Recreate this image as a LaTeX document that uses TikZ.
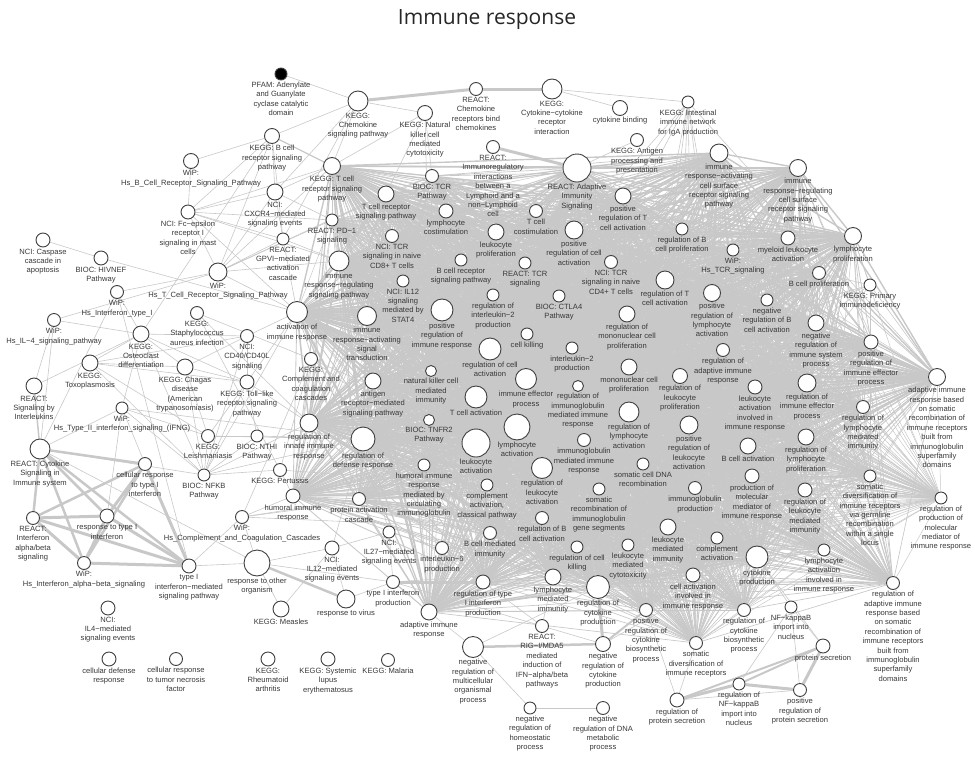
\documentclass[tikz,border=0pt]{standalone}
\usepackage{fontspec}
\setmainfont{Liberation Sans}
\newfontfamily\titlefont{Open Sans}
\usetikzlibrary{backgrounds}

\definecolor{linkgrey}{HTML}{C8C8C8}
\definecolor{ringgrey}{HTML}{3F3F3F}
\definecolor{textgrey}{HTML}{383838}

\tikzset{
  term/.style={circle, draw=ringgrey, fill=white, line width=0.9pt, inner sep=0pt, minimum size={2*#1}},
  lbl/.style={font=\fontsize{7.6}{9.4}\selectfont, text=textgrey, align=center, inner sep=0.5pt, label distance=0.6pt},
  link/.style={draw=linkgrey, line width=#1},
  link/.default=0.6pt
}

% terms that are all linked to one another
\newcommand\corelist{iracs/9, irrcs/8.5, posTact/8, tcostim/6.5, lcostim/7, tcrsig/8, lprolif/8, poscellact/9,
  regBprolif/6, myeloid/7, lymprolif/8.5, wiptcr/6, bprolif/6.5, irsp/10, bcrsig/6, rtcr/6, tcr4/6.5,
  regTact/9, poslymact/8.5, negBact/6, regil2/6, ctla4/6, actimm/10.5, irast/9.5, posimm/11,
  regmonoprolif/8, negimmsys/8, posimmeff/7, cellkill/6, regcellact/11, il2prod/6, regadapt/6.5,
  adaptsom/8.5, monoprolif/8, regleukprolif/7.5, immeff/10.5, regigimm/5.5, leukactinv/7, regimmeff/9,
  reglymmed/6.5, nkimm/5.5, antigenrec/8, tact/11, reglymact/10, posleukact/9, lymact/13, leukact/14,
  reginnate/9, regdef/12, tnfr2/5.5, bact/8, reglymprolif/8, igmed/6.5, humoralig/6, regleukact/10.5,
  somdna/6, prodmol/7, regleukmed/7, somgerm/6, regprodmol/6, compclass/6, somrecig/6, igprod/6.5,
  bmedimm/6.5, regBact/6.5, leukmedimm/8, compact/6, humoral/7, protact/6.5, regcellkill/6, leukcyto/6,
  lymmedimm/8, regcytprod/11.5, cellactinv/7, cytprod/11, lymactinv/6, regadaptsom/6.5, adaptimm/8,
  regtypei/7, radapt/14, ktcell/8.5, bioctcr/6.5, tcr8/6.5, il12stat/6, pd1/6, somdiv/6.5,
  poscytbio/6.5, regcytbio/6.5}

\begin{document}
\begin{tikzpicture}[x=1pt, y=-1pt]
\useasboundingbox (0,0) rectangle (975,758);

\node[font=\titlefont\fontsize{21}{25}\selectfont, text=black!85] (title) at (487,20) {Immune response};

% pathways, top and left
\node[term=6, fill=black, label={[lbl]below:{PFAM: Adenylate\\and Guanylate\\cyclase catalytic\\domain}}] (pfam) at (281,74) {};
\node[term=10, label={[lbl]below:{KEGG:\\Chemokine\\signaling pathway}}] (kchemo) at (358,101) {};
\node[term=6.5, label={[lbl]below:{REACT:\\Chemokine\\receptors bind\\chemokines}}] (rchemo) at (476,89) {};
\node[term=7.5, label={[lbl]below:{KEGG: Natural\\killer cell\\mediated\\cytotoxicity}}] (nkcyto) at (425,113) {};
\node[term=10, label={[lbl]below:{KEGG:\\Cytokine−cytokine\\receptor\\interaction}}] (kcytok) at (552,89) {};
\node[term=7.5, label={[lbl]below:{cytokine binding}}] (cytbind) at (620,108) {};
\node[term=6, label={[lbl]below:{KEGG: Intestinal\\immune network\\for IgA production}}] (kiga) at (688,102) {};
\node[term=7.5, label={[lbl]below:{KEGG: B cell\\receptor signaling\\pathway}}] (kbcell) at (272,136) {};
\node[term=7.5, label={[lbl]below:{WiP:\\Hs\_B\_Cell\_Receptor\_Signaling\_Pathway}}] (wipb) at (191,161) {};
\node[term=6.5, label={[lbl]below:{REACT:\\Immunoregulatory\\interactions\\between a\\Lymphoid and a\\non−Lymphoid\\cell}}] (rimmreg) at (493,147) {};
\node[term=6.5, label={[lbl]below:{KEGG: Antigen\\processing and\\presentation}}] (kantigen) at (637,140) {};
\node[term=14, label={[lbl]below:{REACT: Adaptive\\Immunity\\Signaling}}] (radapt) at (577,168) {};
\node[term=8.5, label={[lbl]below:{KEGG: T cell\\receptor signaling\\pathway}}] (ktcell) at (332,166) {};
\node[term=6.5, label={[lbl]below:{BIOC: TCR\\Pathway}}] (bioctcr) at (432,176) {};
\node[term=8, label={[lbl]below:{NCI:\\CXCR4−mediated\\signaling events}}] (cxcr4) at (275,192) {};
\node[term=7, label={[lbl]below:{NCI: Fc−epsilon\\receptor I\\signaling in mast\\cells}}] (fceps) at (188,212) {};
\node[term=7, label={[lbl]below:{NCI: Caspase\\cascade in\\apoptosis}}] (caspase) at (43,240) {};
\node[term=7, label={[lbl]below:{BIOC: HIVNEF\\Pathway}}] (hivnef) at (101,258) {};
\node[term=6, label={[lbl]below:{REACT:\\GPVI−mediated\\activation\\cascade}}] (gpvi) at (283,239) {};
\node[term=6, label={[lbl]below:{REACT: PD−1\\signaling}}] (pd1) at (332,220) {};
\node[term=6.5, label={[lbl]below:{NCI: TCR\\signaling in naive\\CD8+ T cells}}] (tcr8) at (392,236) {};
\node[term=9, label={[lbl]below:{WiP:\\Hs\_T\_Cell\_Receptor\_Signaling\_Pathway}}] (wipT) at (218,272) {};
\node[term=6, label={[lbl]below:{NCI: IL12\\signaling\\mediated by\\STAT4}}] (il12stat) at (403,281) {};
\node[term=6.5, label={[lbl]below:{WiP:\\Hs\_Interferon\_type\_I}}] (wipifn) at (117,292) {};
\node[term=6.5, label={[lbl]below:{KEGG:\\Staphylococcus\\aureus infection}}] (kstaph) at (197,313) {};
\node[term=6.5, label={[lbl]below:{WiP:\\Hs\_IL−4\_signaling\_pathway}}] (wipil4) at (54,320) {};
\node[term=8, label={[lbl]below:{KEGG:\\Osteoclast\\differentiation}}] (kosteo) at (141,334) {};
\node[term=6.5, label={[lbl]below:{NCI:\\CD40/CD40L\\signaling}}] (cd40) at (247,336) {};
\node[term=8, label={[lbl]below:{KEGG:\\Toxoplasmosis}}] (ktoxo) at (90,363) {};
\node[term=8, label={[lbl]below:{KEGG: Chagas\\disease\\(American\\trypanosomiasis)}}] (kchagas) at (185,367) {};
\node[term=7, label={[lbl]below:{KEGG: Toll−like\\receptor signaling\\pathway}}] (ktoll) at (247,382) {};
\node[term=8, label={[lbl]below:{REACT:\\Signaling by\\Interleukins}}] (rsigil) at (34,386) {};
\node[term=6, label={[lbl]below:{WiP:\\Hs\_Type\_II\_interferon\_signaling\_(IFNG)}}] (wipt2) at (122,408) {};
\node[term=6.5, label={[lbl]below:{KEGG:\\Leishmaniasis}}] (kleish) at (208,436) {};
\node[term=6, label={[lbl]below:{BIOC: NTHI\\Pathway}}] (nthi) at (257,436) {};
\node[term=10, label={[lbl]below:{REACT: Cytokine\\Signaling in\\Immune system}}] (rcyto) at (40,449) {};
\node[term=6.5, label={[lbl]below:{cellular response\\to type I\\interferon}}] (cellrifn) at (145,464) {};
\node[term=6, label={[lbl]below:{BIOC: NFKB\\Pathway}}] (bnfkb) at (204,475) {};
\node[term=6.5, label={[lbl]below:{KEGG:\\Complement and\\coagulation\\cascades}}] (kcomp) at (311,359) {};
\node[term=6.5, label={[lbl]below:{KEGG: Pertussis}}] (kpert) at (280,470) {};
\node[term=6.5, label={[lbl]below:{WiP:\\Hs\_Complement\_and\_Coagulation\_Cascades}}] (wipcomp) at (242,517) {};
\node[term=6.5, label={[lbl]below:{REACT:\\Interferon\\alpha/beta\\signaling}}] (rifnab) at (33,518) {};
\node[term=7, label={[lbl]below:{response to type I\\interferon}}] (respifn) at (107,516) {};
\node[term=6.5, label={[lbl]below:{WiP:\\Hs\_Interferon\_alpha−beta\_signaling}}] (wipifnab) at (84,563) {};
\node[term=7, label={[lbl]below:{type I\\interferon−mediated\\signaling pathway}}] (typeisig) at (189,566) {};
\node[term=13, label={[lbl]below:{response to other\\organism}}] (respother) at (257,563) {};
\node[term=7, label={[lbl]below:{NCI:\\IL12−mediated\\signaling events}}] (il12med) at (332,548) {};
\node[term=6, label={[lbl]below:{NCI:\\IL27−mediated\\signaling events}}] (il27) at (389,532) {};
\node[term=6.5, label={[lbl]below:{interleukin−6\\production}}] (il6) at (442,548) {};
\node[term=6.5, label={[lbl]below:{type I interferon\\production}}] (typeiprod) at (393,582) {};
\node[term=9, label={[lbl]below:{response to virus}}] (respvirus) at (346,599) {};
\node[term=8, label={[lbl]below:{KEGG: Measles}}] (kmeasles) at (281,609) {};
\node[term=7, label={[lbl]below:{NCI:\\IL4−mediated\\signaling events}}] (il4med) at (108,608) {};
\node[term=7, label={[lbl]below:{cellular defense\\response}}] (celldef) at (109,659) {};
\node[term=6.5, label={[lbl]below:{cellular response\\to tumor necrosis\\factor}}] (celltnf) at (176,659) {};
\node[term=7, label={[lbl]below:{KEGG:\\Rheumatoid\\arthritis}}] (krheum) at (268,659) {};
\node[term=7, label={[lbl]below:{KEGG: Systemic\\lupus\\erythematosus}}] (ksle) at (328,659) {};
\node[term=6.5, label={[lbl]below:{KEGG: Malaria}}] (kmalaria) at (388,660) {};

% bottom right
\node[term=10.5, label={[lbl]below:{negative\\regulation of\\multicellular\\organismal\\process}}] (negmulti) at (473,647) {};
\node[term=6, label={[lbl]below:{negative\\regulation of\\homeostatic\\process}}] (neghomeo) at (530,708) {};
\node[term=6.5, label={[lbl]below:{negative\\regulation of DNA\\metabolic\\process}}] (negdna) at (603,708) {};
\node[term=6.5, label={[lbl]below:{REACT:\\RIG−I/MDA5\\mediated\\induction of\\IFN−alpha/beta\\pathways}}] (rigi) at (542,626) {};
\node[term=7.5, label={[lbl]below:{negative\\regulation of\\cytokine\\production}}] (negcytprod) at (603,644) {};
\node[term=7, label={[lbl]below:{regulation of\\protein secretion}}] (regprotsec) at (677,700) {};
\node[term=6, label={[lbl]below:{regulation of\\NF−kappaB\\import into\\nucleus}}] (regnfkb) at (739,684) {};
\node[term=6.5, label={[lbl]below:{positive\\regulation of\\protein secretion}}] (posprotsec) at (800,690) {};
\node[term=7, label={[lbl]below:{protein secretion}}] (protsec) at (823,646) {};
\node[term=6, label={[lbl]below:{NF−kappaB\\import into\\nucleus}}] (nfkbimp) at (791,607) {};
\node[term=6.5, label={[lbl]below:{regulation of\\cytokine\\biosynthetic\\process}}] (regcytbio) at (744,610) {};
\node[term=6.5, label={[lbl]below:{somatic\\diversification of\\immune receptors}}] (somdiv) at (696,643) {};
\node[term=6.5, label={[lbl]below:{positive\\regulation of\\cytokine\\biosynthetic\\process}}] (poscytbio) at (646,610) {};

% core terms
\node[term=9, label={[lbl]below:{immune\\response−activating\\cell surface\\receptor signaling\\pathway}}] (iracs) at (719,153) {};
\node[term=8.5, label={[lbl]below:{immune\\response−regulating\\cell surface\\receptor signaling\\pathway}}] (irrcs) at (798,168) {};
\node[term=8, label={[lbl]below:{positive\\regulation of T\\cell activation}}] (posTact) at (623,196) {};
\node[term=6.5, label={[lbl]below:{T cell\\costimulation}}] (tcostim) at (536,211) {};
\node[term=7, label={[lbl]below:{lymphocyte\\costimulation}}] (lcostim) at (446,211) {};
\node[term=8, label={[lbl]below:{T cell receptor\\signaling pathway}}] (tcrsig) at (386,194) {};
\node[term=8, label={[lbl]below:{leukocyte\\proliferation}}] (lprolif) at (496,232) {};
\node[term=9, label={[lbl]below:{positive\\regulation of cell\\activation}}] (poscellact) at (574,230) {};
\node[term=6, label={[lbl]below:{regulation of B\\cell proliferation}}] (regBprolif) at (682,229) {};
\node[term=7, label={[lbl]below:{myeloid leukocyte\\activation}}] (myeloid) at (788,238) {};
\node[term=8.5, label={[lbl]below:{lymphocyte\\proliferation}}] (lymprolif) at (853,236) {};
\node[term=6, label={[lbl]below:{WiP:\\Hs\_TCR\_signaling}}] (wiptcr) at (733,250) {};
\node[term=6.5, label={[lbl]below:{B cell proliferation}}] (bprolif) at (819,273) {};
\node[term=6, label={[lbl]below:{KEGG: Primary\\immunodeficiency}}] (kprimary) at (870,285) {};
\node[term=10, label={[lbl]below:{immune\\response−regulating\\signaling pathway}}] (irsp) at (339,261) {};
\node[term=6, label={[lbl]below:{B cell receptor\\signaling pathway}}] (bcrsig) at (461,260) {};
\node[term=6, label={[lbl]below:{REACT: TCR\\signaling}}] (rtcr) at (525,263) {};
\node[term=6.5, label={[lbl]below:{NCI: TCR\\signaling in naive\\CD4+ T cells}}] (tcr4) at (611,262) {};
\node[term=9, label={[lbl]below:{regulation of T\\cell activation}}] (regTact) at (665,280) {};
\node[term=8.5, label={[lbl]below:{positive\\regulation of\\lymphocyte\\activation}}] (poslymact) at (712,293) {};
\node[term=6, label={[lbl]below:{negative\\regulation of B\\cell activation}}] (negBact) at (767,300) {};
\node[term=6, label={[lbl]below:{regulation of\\interleukin−2\\production}}] (regil2) at (493,295) {};
\node[term=6, label={[lbl]below:{BIOC: CTLA4\\Pathway}}] (ctla4) at (559,296) {};
\node[term=10.5, label={[lbl]below:{activation of\\immune response}}] (actimm) at (297,312) {};
\node[term=9.5, label={[lbl]below:{immune\\response−activating\\signal\\transduction}}] (irast) at (367,316) {};
\node[term=11, label={[lbl]below:{positive\\regulation of\\immune response}}] (posimm) at (442,310) {};
\node[term=8, label={[lbl]below:{regulation of\\mononuclear cell\\proliferation}}] (regmonoprolif) at (627,314) {};
\node[term=8, label={[lbl]below:{negative\\regulation of\\immune system\\process}}] (negimmsys) at (816,323) {};
\node[term=7, label={[lbl]below:{positive\\regulation of\\immune effector\\process}}] (posimmeff) at (871,342) {};
\node[term=6, label={[lbl]below:{cell killing}}] (cellkill) at (527,334) {};
\node[term=11, label={[lbl]below:{regulation of cell\\activation}}] (regcellact) at (490,349) {};
\node[term=6, label={[lbl]below:{interleukin−2\\production}}] (il2prod) at (572,348) {};
\node[term=6.5, label={[lbl]below:{regulation of\\adaptive immune\\response}}] (regadapt) at (723,350) {};
\node[term=8.5, label={[lbl]below:{adaptive immune\\response based\\on somatic\\recombination of\\immune receptors\\built from\\immunoglobulin\\superfamily\\domains}}] (adaptsom) at (937,377) {};
\node[term=8, label={[lbl]below:{mononuclear cell\\proliferation}}] (monoprolif) at (629,367) {};
\node[term=7.5, label={[lbl]below:{regulation of\\leukocyte\\proliferation}}] (regleukprolif) at (680,376) {};
\node[term=10.5, label={[lbl]below:{immune effector\\process}}] (immeff) at (526,379) {};
\node[term=5.5, label={[lbl]below:{regulation of\\immunoglobulin\\mediated immune\\response}}] (regigimm) at (578,386) {};
\node[term=7, label={[lbl]below:{leukocyte\\activation\\involved in\\immune response}}] (leukactinv) at (755,387) {};
\node[term=9, label={[lbl]below:{regulation of\\immune effector\\process}}] (regimmeff) at (807,383) {};
\node[term=6.5, label={[lbl]below:{regulation of\\lymphocyte\\mediated\\immunity}}] (reglymmed) at (863,407) {};
\node[term=5.5, label={[lbl]below:{natural killer cell\\mediated\\immunity}}] (nkimm) at (431,371) {};
\node[term=8, label={[lbl]below:{antigen\\receptor−mediated\\signaling pathway}}] (antigenrec) at (373,381) {};
\node[term=11, label={[lbl]below:{T cell activation}}] (tact) at (476,397) {};
\node[term=10, label={[lbl]below:{regulation of\\lymphocyte\\activation}}] (reglymact) at (629,412) {};
\node[term=9, label={[lbl]below:{positive\\regulation of\\leukocyte\\activation}}] (posleukact) at (689,425) {};
\node[term=13, label={[lbl]below:{lymphocyte\\activation}}] (lymact) at (517,427) {};
\node[term=14, label={[lbl]below:{leukocyte\\activation}}] (leukact) at (476,443) {};
\node[term=9, label={[lbl]below:{regulation of\\innate immune\\response}}] (reginnate) at (309,423) {};
\node[term=12, label={[lbl]below:{regulation of\\defense response}}] (regdef) at (363,439) {};
\node[term=5.5, label={[lbl]below:{BIOC: TNFR2\\Pathway}}] (tnfr2) at (429,420) {};
\node[term=8, label={[lbl]below:{B cell activation}}] (bact) at (748,446) {};
\node[term=8, label={[lbl]below:{regulation of\\lymphocyte\\proliferation}}] (reglymprolif) at (806,437) {};
\node[term=6.5, label={[lbl]below:{immunoglobulin\\mediated immune\\response}}] (igmed) at (584,440) {};
\node[term=6, label={[lbl]below:{humoral immune\\response\\mediated by\\circulating\\immunoglobulin}}] (humoralig) at (424,465) {};
\node[term=10.5, label={[lbl]below:{regulation of\\leukocyte\\activation}}] (regleukact) at (542,468) {};
\node[term=6, label={[lbl]below:{somatic cell DNA\\recombination}}] (somdna) at (643,464) {};
\node[term=7, label={[lbl]below:{production of\\molecular\\mediator of\\immune response}}] (prodmol) at (752,476) {};
\node[term=7, label={[lbl]below:{regulation of\\leukocyte\\mediated\\immunity}}] (regleukmed) at (805,490) {};
\node[term=6, label={[lbl]below:{somatic\\diversification of\\immune receptors\\via germline\\recombination\\within a single\\locus}}] (somgerm) at (870,476) {};
\node[term=6, label={[lbl]below:{regulation of\\production of\\molecular\\mediator of\\immune response}}] (regprodmol) at (941,498) {};
\node[term=6, label={[lbl]below:{complement\\activation,\\classical pathway}}] (compclass) at (487,485) {};
\node[term=6, label={[lbl]below:{somatic\\recombination of\\immunoglobulin\\gene segments}}] (somrecig) at (599,489) {};
\node[term=6.5, label={[lbl]below:{immunoglobulin\\production}}] (igprod) at (695,488) {};
\node[term=6.5, label={[lbl]below:{B cell mediated\\immunity}}] (bmedimm) at (490,533) {};
\node[term=6.5, label={[lbl]below:{regulation of B\\cell activation}}] (regBact) at (542,518) {};
\node[term=8, label={[lbl]below:{leukocyte\\mediated\\immunity}}] (leukmedimm) at (668,527) {};
\node[term=6, label={[lbl]below:{complement\\activation}}] (compact) at (717,538) {};
\node[term=7, label={[lbl]below:{humoral immune\\response}}] (humoral) at (293,496) {};
\node[term=6.5, label={[lbl]below:{protein activation\\cascade}}] (protact) at (359,499) {};
\node[term=6, label={[lbl]below:{regulation of cell\\killing}}] (regcellkill) at (577,547) {};
\node[term=6, label={[lbl]below:{leukocyte\\mediated\\cytotoxicity}}] (leukcyto) at (628,545) {};
\node[term=8, label={[lbl]below:{lymphocyte\\mediated\\immunity}}] (lymmedimm) at (553,577) {};
\node[term=11.5, label={[lbl]below:{regulation of\\cytokine\\production}}] (regcytprod) at (598,587) {};
\node[term=7, label={[lbl]below:{cell activation\\involved in\\immune response}}] (cellactinv) at (693,575) {};
\node[term=11, label={[lbl]below:{cytokine\\production}}] (cytprod) at (757,557) {};
\node[term=6, label={[lbl]below:{lymphocyte\\activation\\involved in\\immune response}}] (lymactinv) at (824,550) {};
\node[term=6.5, label={[lbl]below:{regulation of\\adaptive immune\\response based\\on somatic\\recombination of\\immune receptors\\built from\\immunoglobulin\\superfamily\\domains}}] (regadaptsom) at (893,583) {};
\node[term=8, label={[lbl]below:{adaptive immune\\response}}] (adaptimm) at (429,612) {};
\node[term=7, label={[lbl]below:{regulation of type\\I interferon\\production}}] (regtypei) at (483,582) {};

\begin{pgfonlayer}{background}
% dense core
\foreach \a/\ra [count=\i] in \corelist {
  \foreach \b/\rb [count=\j] in \corelist {
    \ifnum\j>\i
      \pgfmathsetmacro\w{max(0.5, 0.5+0.36*(min(\ra,\rb)-6))}
      \draw[link=\w pt] (\a) -- (\b);
    \fi
  }
}
% thin links
\foreach \a/\b in {pfam/kchemo, kcytok/cytbind, kcytok/kiga, kchemo/kbcell, kchemo/ktcell, kchemo/cxcr4,
  kchemo/nkcyto, kchemo/gpvi, kbcell/cxcr4, kbcell/fceps, kbcell/gpvi, kbcell/wipT, kbcell/kosteo,
  wipb/kbcell, wipb/fceps, fceps/ktcell, fceps/cxcr4, fceps/gpvi, fceps/wipT, fceps/irsp, fceps/actimm,
  fceps/pd1, caspase/hivnef, hivnef/actimm, wipT/ktcell, wipT/gpvi, wipT/irsp, wipT/cxcr4, wipT/wipifn,
  wipT/pd1, wipT/tcrsig, wipT/actimm, cxcr4/gpvi, cxcr4/ktcell, cxcr4/pd1, gpvi/irsp, gpvi/actimm,
  nkcyto/bioctcr, nkcyto/ktcell, nkcyto/tcrsig, nkcyto/nkimm, kantigen/radapt,
  kiga/posTact, kiga/regTact, kiga/poscellact, kiga/poslymact, kiga/reglymact, kiga/bact, kiga/igprod,
  kiga/regBprolif, kiga/adaptsom, kiga/lymact,
  kprimary/lymprolif, kprimary/bprolif, kprimary/adaptsom, kprimary/somgerm, kprimary/bact,
  kprimary/lymact, kprimary/tact, kprimary/negimmsys,
  wipil4/rsigil, wipil4/rcyto, wipil4/wipT, wipil4/kosteo, wipifn/rcyto, wipifn/kosteo, wipifn/typeisig,
  rsigil/kosteo, rcyto/wipt2, rcyto/bnfkb, rcyto/respother,
  wipt2/respifn, wipt2/cellrifn, wipt2/kosteo, wipt2/kleish, wipt2/bnfkb, wipt2/regdef,
  bnfkb/kleish, bnfkb/kchagas, bnfkb/ktoll, bnfkb/ktoxo, bnfkb/kosteo, bnfkb/nthi, bnfkb/kpert,
  bnfkb/cd40, bnfkb/actimm, bnfkb/regdef, bnfkb/reginnate,
  ktoxo/kchagas, ktoxo/ktoll, ktoxo/kleish, ktoxo/cd40, kchagas/ktoll, kchagas/kleish, kchagas/cd40,
  kosteo/ktoll, kosteo/kchagas, kosteo/cd40, kosteo/ktoxo,
  kstaph/kcomp, kstaph/reginnate, kstaph/kpert, ktoll/cd40, ktoll/reginnate, ktoll/nthi, ktoll/kleish,
  ktoll/actimm, cd40/actimm, nthi/regdef, kleish/regdef, kleish/nthi,
  kcomp/wipcomp, kcomp/humoral, kcomp/protact, kcomp/compclass, kcomp/compact, kcomp/kpert,
  wipcomp/humoral, wipcomp/protact, wipcomp/compclass, wipcomp/respother, wipcomp/compact,
  kpert/compclass, kpert/humoral, typeisig/respother, typeisig/wipcomp,
  respother/kmeasles, respother/il12med, respother/typeiprod, kmeasles/il12med, respvirus/typeiprod,
  respvirus/il12med, il12med/il27, il27/typeiprod, il27/il6, il12med/regdef, il27/regdef,
  il6/regcytprod, il6/cytprod, il6/regtypei, typeiprod/adaptimm, typeiprod/rigi, typeiprod/regcytprod,
  typeiprod/cytprod, negmulti/neghomeo, negmulti/adaptimm, negmulti/regcytprod, neghomeo/negdna,
  rigi/regtypei, rigi/lymmedimm, negcytprod/cytprod, negcytprod/rigi,
  regprotsec/somdiv, regprotsec/poscytbio, regprotsec/posprotsec, protsec/nfkbimp, protsec/cytprod,
  nfkbimp/cytprod, nfkbimp/posprotsec, regcytbio/poscytbio, nfkbimp/regnfkb}
  \draw[link] (\a) -- (\b);
% heavy links
\foreach \a/\b/\w in {kchemo/rchemo/3, rchemo/kcytok/3, kbcell/ktcell/1.2, rimmreg/radapt/3,
  rsigil/rcyto/1.5, rcyto/cellrifn/2.5, rcyto/rifnab/2.5, rcyto/respifn/2.5, rcyto/wipifnab/2.5,
  rcyto/typeisig/2.5, rifnab/respifn/3, rifnab/wipifnab/3, rifnab/cellrifn/2.5, rifnab/typeisig/3,
  respifn/cellrifn/3, respifn/wipifnab/3, respifn/typeisig/3, wipifnab/typeisig/3,
  wipifnab/cellrifn/2.5, cellrifn/typeisig/3, respother/respvirus/2.5, typeiprod/regtypei/3,
  negmulti/negcytprod/2.5, negcytprod/regcytprod/3, negcytprod/poscytbio/2, regprotsec/regnfkb/3,
  regprotsec/protsec/2, regnfkb/posprotsec/3, regnfkb/protsec/2, protsec/posprotsec/3,
  regcytbio/cytprod/1.5}
  \draw[link=\w pt] (\a) -- (\b);
\end{pgfonlayer}
\end{tikzpicture}
\end{document}
